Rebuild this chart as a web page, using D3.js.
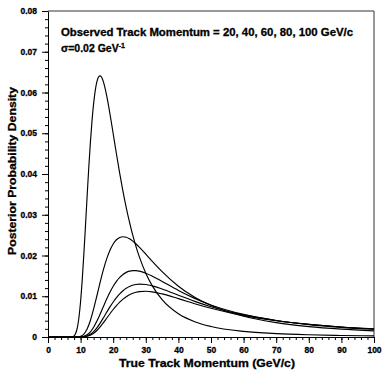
<!DOCTYPE html>
<html>
<head>
<meta charset="utf-8">
<script src="https://cdn.jsdelivr.net/npm/d3@7"></script>
<style>
  html, body { margin: 0; padding: 0; background: #fff; }
  svg { display: block; }
  text { font-family: "Liberation Sans", Arial, Helvetica, sans-serif; font-weight: bold; fill: #000;
         stroke: #000; stroke-width: 0.3px; }
</style>
</head>
<body>
<svg id="chart" width="384" height="373"></svg>
<script>
// True track momentum samples (GeV/c); the 20 GeV/c curve is sampled more finely around its sharp peak
const momentumNarrow = [0, 6, 7, 8, 8.5, 9, 9.5, 10, 10.5, 11, 11.5, 12, 12.5, 13, 13.5, 14, 14.5, 15, 15.5, 16, 16.5, 17,
  18, 19, 20, 21, 22, 23, 24, 25, 26, 27, 28, 30, 32, 35, 40, 45, 50, 60, 70, 80, 90, 100];
const momentumWide = [0, 8, 9, 10, 11, 12, 13, 14, 15, 16, 17, 18, 19, 20, 21, 22, 23, 24, 25, 26, 27, 28,
  30, 32, 35, 40, 45, 50, 60, 70, 80, 90, 100];

// Posterior probability density for each observed momentum
const densityObs20 = [0, 0, 0.00001, 0.00028, 0.00091, 0.00231, 0.00486, 0.00876, 0.01401, 0.02035, 0.02736, 0.03454,
  0.04145, 0.04770, 0.05304, 0.05733, 0.06052, 0.06265, 0.06380, 0.06409, 0.06366, 0.06262,
  0.05924, 0.05478, 0.04987, 0.04491, 0.04016, 0.03576, 0.03175, 0.02817, 0.02498, 0.02218, 0.01971,
  0.01566, 0.01255, 0.00917, 0.00571, 0.00376, 0.00259, 0.00138, 0.00083, 0.00054, 0.00037, 0.00027];
const densityObs40 = [0, 0, 0.00002, 0.00018, 0.00072, 0.00197, 0.00406, 0.00688, 0.01012, 0.01344, 0.01652, 0.01916,
  0.02128, 0.02283, 0.02386, 0.02443, 0.02461, 0.02447, 0.02409, 0.02353, 0.02283, 0.02204,
  0.02032, 0.01855, 0.01603, 0.01247, 0.00976, 0.00773, 0.00508, 0.00353, 0.00256, 0.00194, 0.00151];
const densityObs60 = [0, 0, 0, 0.00003, 0.00017, 0.00054, 0.00126, 0.00240, 0.00390, 0.00564, 0.00749, 0.00930,
  0.01097, 0.01244, 0.01366, 0.01463, 0.01535, 0.01586, 0.01616, 0.01630, 0.01629, 0.01617,
  0.01566, 0.01493, 0.01364, 0.01143, 0.00948, 0.00787, 0.00554, 0.00404, 0.00305, 0.00237, 0.00189];
const densityObs80 = [0, 0, 0, 0.00001, 0.00008, 0.00026, 0.00066, 0.00133, 0.00226, 0.00342, 0.00472, 0.00607,
  0.00738, 0.00860, 0.00968, 0.01060, 0.01136, 0.01196, 0.01240, 0.01271, 0.01289, 0.01297,
  0.01288, 0.01255, 0.01179, 0.01026, 0.00875, 0.00744, 0.00542, 0.00406, 0.00312, 0.00246, 0.00198];
const densityObs100 = [0, 0, 0, 0, 0.00005, 0.00017, 0.00044, 0.00091, 0.00160, 0.00249, 0.00351, 0.00460,
  0.00570, 0.00675, 0.00771, 0.00856, 0.00929, 0.00989, 0.01036, 0.01072, 0.01097, 0.01113,
  0.01122, 0.01108, 0.01058, 0.00941, 0.00817, 0.00704, 0.00524, 0.00398, 0.00309, 0.00246, 0.00200];

// Axis ticks
const xMajorTicks = [0, 10, 20, 30, 40, 50, 60, 70, 80, 90, 100];
const yMajorTicks = [0, 0.01, 0.02, 0.03, 0.04, 0.05, 0.06, 0.07, 0.08];
const yTickLabels = ["0", "0.01", "0.02", "0.03", "0.04", "0.05", "0.06", "0.07", "0.08"];

const curves = [
  { x: momentumNarrow, y: densityObs20 },
  { x: momentumWide, y: densityObs40 },
  { x: momentumWide, y: densityObs60 },
  { x: momentumWide, y: densityObs80 },
  { x: momentumWide, y: densityObs100 }
];

const svg = d3.select("#chart");
const margin = { left: 48, right: 10, top: 11, bottom: 36 };
const W = 384, H = 373;

const x = d3.scaleLinear().domain([0, 100]).range([margin.left, W - margin.right]);
const y = d3.scaleLinear().domain([0, 0.08]).range([H - margin.bottom, margin.top]);

// Frame (top and right edges)
svg.append("path")
  .attr("d", `M${x(0)},${y(0.08)}H${x(100)}V${y(0)}`)
  .attr("fill", "none").attr("stroke", "#333").attr("stroke-width", 1);

// Minor ticks
const xMinor = d3.range(0, 100.001, 2);
const yMinor = d3.range(0, 0.0801, 0.002);
svg.append("g").attr("transform", `translate(0,${y(0)})`)
  .call(d3.axisBottom(x).tickValues(xMinor).tickSize(3).tickFormat(""))
  .call(g => g.select(".domain").remove());
svg.append("g").attr("transform", `translate(${x(0)},0)`)
  .call(d3.axisLeft(y).tickValues(yMinor).tickSize(3).tickFormat(""))
  .call(g => g.select(".domain").remove());

// Major axes
const xAxis = svg.append("g").attr("transform", `translate(0,${y(0)})`)
  .call(d3.axisBottom(x).tickValues(xMajorTicks).tickSize(6).tickSizeOuter(0).tickPadding(3).tickFormat(d3.format("d")));
const yAxis = svg.append("g").attr("transform", `translate(${x(0)},0)`)
  .call(d3.axisLeft(y).tickValues(yMajorTicks).tickSize(6).tickSizeOuter(0).tickPadding(5)
    .tickFormat((d, i) => yTickLabels[i]));

svg.selectAll(".tick line").attr("stroke", "#000");
svg.selectAll(".domain").attr("stroke", "#000");
xAxis.selectAll("text").style("font-size", "8.5px").attr("dy", "0.8em");
yAxis.selectAll("text").style("font-size", "8.5px");

// Curves
const line = d3.line()
  .x(d => x(d[0]))
  .y(d => y(d[1]))
  .curve(d3.curveMonotoneX);

svg.append("g").selectAll("path")
  .data(curves)
  .join("path")
  .attr("d", c => line(c.x.map((p, i) => [p, c.y[i]])))
  .attr("fill", "none")
  .attr("stroke", "#000")
  .attr("stroke-width", 1.15);

// Annotation
svg.append("text")
  .attr("x", 61).attr("y", 36)
  .style("font-size", "10.5px")
  .attr("textLength", 292).attr("lengthAdjust", "spacingAndGlyphs")
  .text("Observed Track Momentum = 20, 40, 60, 80, 100 GeV/c");

const sig = svg.append("text")
  .attr("x", 61).attr("y", 52)
  .style("font-size", "10.5px");
sig.append("tspan").text("σ=0.02 GeV");
sig.append("tspan").attr("dy", -4).style("font-size", "7px").text("-1");

// Axis titles
svg.append("text")
  .attr("x", 207).attr("y", 367)
  .attr("text-anchor", "middle")
  .style("font-size", "11px")
  .attr("textLength", 176).attr("lengthAdjust", "spacingAndGlyphs")
  .text("True Track Momentum (GeV/c)");

svg.append("text")
  .attr("transform", "translate(16,171) rotate(-90)")
  .attr("text-anchor", "middle")
  .style("font-size", "11px")
  .attr("textLength", 168).attr("lengthAdjust", "spacingAndGlyphs")
  .text("Posterior Probability Density");
</script>
</body>
</html>
